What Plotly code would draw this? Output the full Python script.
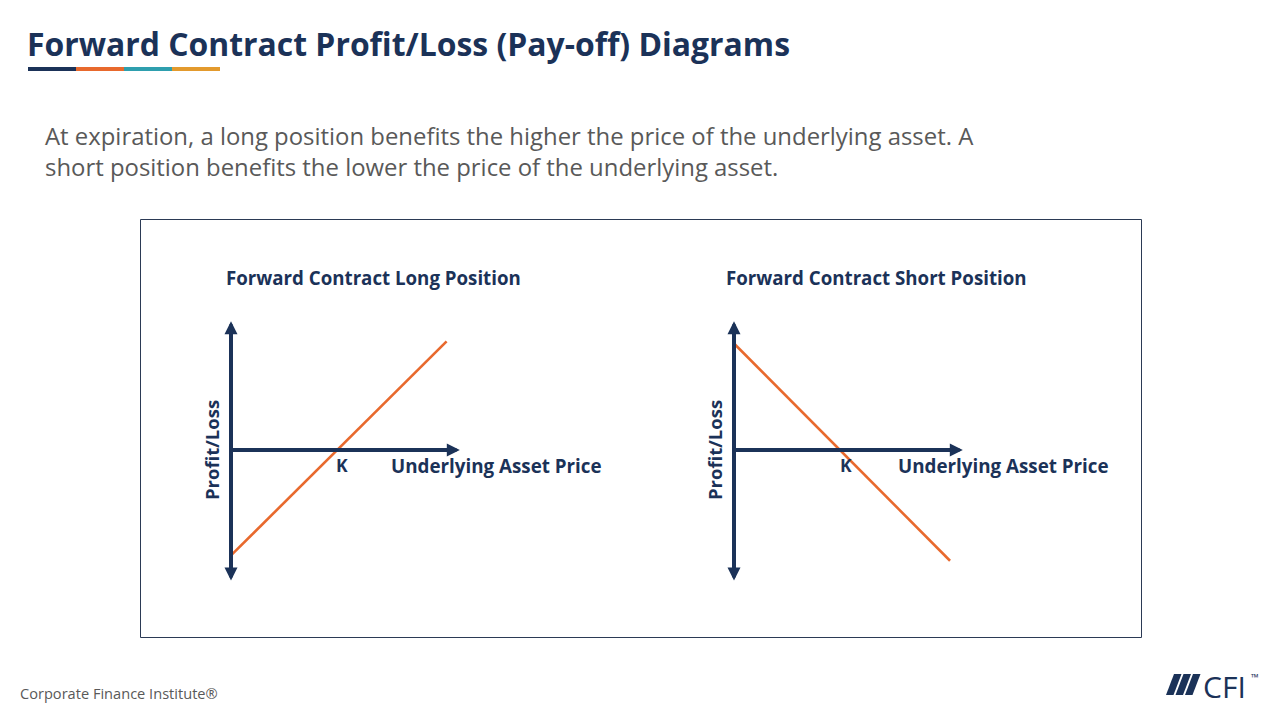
import plotly.graph_objects as go

# ---------------- data ----------------
strike_K = 5.0
asset_price_long = [0.0, 9.8]
payoff_long = [-4.95, 5.1]
asset_price_short = [0.0, 9.82]
payoff_short = [5.0, -5.2]
price_axis_end = 10.4          # tip of the horizontal arrow
pl_axis_top = 6.05             # tip of the upper vertical arrow
pl_axis_bottom = -6.2          # tip of the lower vertical arrow

panel_titles = ["Forward Contract Long Position", "Forward Contract Short Position"]
x_label = "Underlying Asset Price"
y_label = "Profit/Loss"
title = "Forward Contract Profit/Loss (Pay-off) Diagrams"
subtitle_lines = [
    "At expiration, a long position benefits the higher the price of the underlying asset. A",
    "short position benefits the lower the price of the underlying asset.",
]

# ---------------- style ----------------
W, H = 1280, 720
NAVY = "#1b3258"
ORANGE = "#e8692d"
TEAL = "#2e9fae"
GOLD = "#e39a2d"
GREY = "#595959"
FONT = "Open Sans"

def PX(x):
    return x / W

def PY(y):
    return 1 - y / H

UX, UY = 22.0, 21.3        # pixels per data unit
X_RANGE = [-1.0, 11.0]
Y_RANGE = [-6.5, 6.5]
ORIGIN_Y = 450
origins_x = [231, 734]

fig = go.Figure()

series = [(asset_price_long, payoff_long), (asset_price_short, payoff_short)]
annotations = []
for i, (ox, (xs, ys)) in enumerate(zip(origins_x, series)):
    n = "" if i == 0 else str(i + 1)
    xa, ya = "x" + n, "y" + n
    dom_x = [PX(ox + X_RANGE[0] * UX), PX(ox + X_RANGE[1] * UX)]
    dom_y = [PY(ORIGIN_Y - Y_RANGE[0] * UY), PY(ORIGIN_Y - Y_RANGE[1] * UY)]
    fig.update_layout(**{
        "xaxis" + n: dict(domain=dom_x, range=X_RANGE, visible=False, fixedrange=True),
        "yaxis" + n: dict(domain=dom_y, range=Y_RANGE, visible=False, fixedrange=True,
                          anchor=xa),
    })
    fig.layout["xaxis" + n].anchor = ya
    fig.add_trace(go.Scatter(x=xs, y=ys, mode="lines", xaxis=xa, yaxis=ya,
                             line=dict(color=ORANGE, width=2.6),
                             showlegend=False, hoverinfo="skip"))
    # vertical axis (double arrow)
    annotations.append(dict(xref=xa, yref=ya, axref=xa, ayref=ya,
                            x=0, y=pl_axis_top, ax=0, ay=pl_axis_bottom,
                            text="", showarrow=True, arrowside="end+start",
                            arrowhead=2, startarrowhead=2, arrowsize=0.65,
                            startarrowsize=0.65, arrowwidth=4, arrowcolor=NAVY))
    # horizontal axis
    annotations.append(dict(xref=xa, yref=ya, axref=xa, ayref=ya,
                            x=price_axis_end, y=0, ax=-0.09, ay=0,
                            text="", showarrow=True, arrowhead=2, arrowsize=0.65,
                            arrowwidth=4, arrowcolor=NAVY))
    # K label
    annotations.append(dict(xref=xa, yref=ya, x=strike_K, y=0, text="<b>K</b>",
                            showarrow=False, xanchor="center", yanchor="middle",
                            xshift=1 if i == 0 else 2, yshift=-15,
                            font=dict(family=FONT, size=17.5, color=NAVY)))
    # x label
    annotations.append(dict(xref=xa, yref=ya, x=7.18 if i == 0 else 7.36, y=0,
                            text="<b>" + x_label + "</b>", showarrow=False,
                            xanchor="left", yanchor="middle", yshift=-16,
                            font=dict(family=FONT, size=18.8, color=NAVY)))
    # y label
    annotations.append(dict(xref=xa, yref=ya, x=-0.86, y=0,
                            text="<b>" + y_label + "</b>", showarrow=False,
                            textangle=-90, xanchor="center", yanchor="middle",
                            font=dict(family=FONT, size=18.5, color=NAVY)))

# panel titles
for ptx, t in zip([224, 724], panel_titles):
    annotations.append(dict(xref="paper", yref="paper", x=PX(ptx), y=PY(277),
                            text="<b>" + t + "</b>", showarrow=False,
                            xanchor="left", yanchor="middle",
                            font=dict(family=FONT, size=18.7, color=NAVY)))

# main title
annotations.append(dict(xref="paper", yref="paper", x=PX(25), y=PY(43),
                        text="<b>" + title + "</b>", showarrow=False,
                        xanchor="left", yanchor="middle",
                        font=dict(family=FONT, size=31.9, color=NAVY)))
# subtitle (one block, two lines)
annotations.append(dict(xref="paper", yref="paper", x=PX(43), y=PY(151),
                        text="<br>".join(subtitle_lines), showarrow=False,
                        xanchor="left", yanchor="middle", align="left",
                        font=dict(family=FONT, size=23.9, color=GREY)))
# footer
annotations.append(dict(xref="paper", yref="paper", x=PX(18), y=PY(693),
                        text="Corporate Finance Institute®", showarrow=False,
                        xanchor="left", yanchor="middle",
                        font=dict(family=FONT, size=14.6, color=GREY)))
annotations.append(dict(xref="paper", yref="paper", x=PX(1201), y=PY(686),
                        text="CFI", showarrow=False, xanchor="left",
                        yanchor="middle",
                        font=dict(family=FONT, size=30, color=NAVY)))
annotations.append(dict(xref="paper", yref="paper", x=PX(1249), y=PY(677),
                        text="™", showarrow=False, xanchor="left",
                        yanchor="middle",
                        font=dict(family=FONT, size=10, color=NAVY)))

shapes = []
# frame
shapes.append(dict(type="rect", xref="paper", yref="paper",
                   x0=PX(140.5), x1=PX(1141.5), y0=PY(219.5), y1=PY(637.5),
                   line=dict(color="#2b3a55", width=1)))
# colour bar under title
for (a, b), c in zip([(28, 76), (76, 124), (124, 172), (172, 220)],
                     [NAVY, ORANGE, TEAL, GOLD]):
    shapes.append(dict(type="rect", xref="paper", yref="paper",
                       x0=PX(a), x1=PX(b), y0=PY(71), y1=PY(67),
                       line=dict(width=0), fillcolor=c))
# logo bars
for k in range(3):
    o = 9.5 * k
    pts = [(1166 + o, 695), (1173.5 + o, 695), (1181.5 + o, 674), (1174 + o, 674)]
    path = "M " + " L ".join(f"{PX(x):.5f},{PY(y):.5f}" for x, y in pts) + " Z"
    shapes.append(dict(type="path", xref="paper", yref="paper", path=path,
                       fillcolor=NAVY, line=dict(width=0)))

fig.update_layout(width=W, height=H, margin=dict(l=0, r=0, t=0, b=0),
                  paper_bgcolor="white", plot_bgcolor="white",
                  annotations=annotations, shapes=shapes, showlegend=False)

fig.write_html("out.html", config={"displayModeBar": False},
               post_script="document.body.style.margin='0';document.body.style.overflow='hidden';")
